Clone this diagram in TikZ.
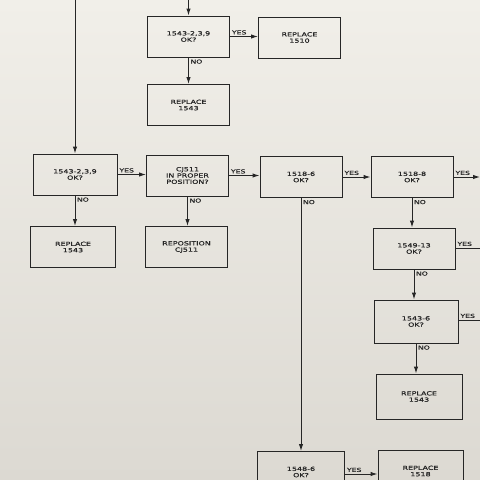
\documentclass[tikz,border=0pt]{standalone}
\usepackage{fontspec}
\newfontfamily\plotfont[FakeStretch=1.4,FakeBold=0.6]{DejaVu Sans}
\usetikzlibrary{arrows.meta}
\definecolor{paperlt}{HTML}{F1EFE9}
\definecolor{paperdk}{HTML}{DCD9D2}
\definecolor{ink}{HTML}{262626}

\begin{document}
\begin{tikzpicture}[x=1pt,y=-1pt,
    box/.style={draw=ink,line width=1pt,minimum width=82pt,minimum height=41pt,inner sep=1pt,
      align=center,text=ink,font=\plotfont\fontsize{5.7}{6.3}\selectfont},
    flow/.style={draw=ink,line width=1pt,-{Latex[length=7pt,width=4.5pt]}},
    wire/.style={draw=ink,line width=1pt},
    ans/.style={text=ink,inner sep=1.5pt,font=\plotfont\fontsize{5.5}{6}\selectfont}]
  % paper
  \shade[top color=paperlt,bottom color=paperdk] (0,0) rectangle (480,480);
  \useasboundingbox (0,0) rectangle (480,480);

  % upper branch
  \node[box] (chkA) at (188.5,36.5) {1543-2,3,9\\OK?};
  \node[box] (repB) at (299.5,37.5) {REPLACE\\1510};
  \node[box] (repC) at (188.5,105) {REPLACE\\1543};

  % main row
  \node[box,minimum width=84pt] (chkD) at (75,174.5) {1543-2,3,9\\OK?};
  \node[box] (posE) at (187.5,175.5) {CJ511\\IN PROPER\\POSITION?};
  \node[box] (chkF) at (301,177) {1518-6\\OK?};
  \node[box] (chkG) at (412,177) {1518-8\\OK?};
  \node[box,minimum width=85pt] (repH) at (73,247) {REPLACE\\1543};
  \node[box] (repI) at (186.5,247) {REPOSITION\\CJ511};

  % right column
  \node[box] (chkJ) at (414,248.5) {1549-13\\OK?};
  \node[box,minimum width=84pt,minimum height=43pt] (chkK) at (416,321.5) {1543-6\\OK?};
  \node[box,minimum width=86pt,minimum height=45pt] (repL) at (419,396.5) {REPLACE\\1543};
  \node[box,minimum width=87pt] (chkM) at (301,472) {1548-6\\OK?};
  \node[box,minimum width=85pt] (repN) at (420.5,471) {REPLACE\\1518};

  % free ends
  \coordinate (inA) at (188.5,0);
  \coordinate (inD) at (75,0);
  \coordinate (outG) at (480,177);
  \coordinate (outJ) at (480,248);
  \coordinate (outK) at (480,320);

  \draw[flow] (inA) -- (chkA.north);
  \draw[flow] (inD) -- (chkD.north);
  \draw[flow] (chkA.east) -- node[ans,pos=0,above right] {YES} (chkA.east -| repB.west);
  \draw[flow] (chkA.south) -- node[ans,pos=0,below right] {NO} (repC.north);
  \draw[flow] (chkD.east) -- node[ans,pos=0,above right] {YES} (chkD.east -| posE.west);
  \draw[flow] (posE.east) -- node[ans,pos=0,above right] {YES} (posE.east -| chkF.west);
  \draw[flow] (chkF.east) -- node[ans,pos=0,above right] {YES} (chkG.west);
  \draw[flow] (chkG.east) -- node[ans,pos=0,above right] {YES} (outG);
  \draw[flow] (chkD.south) -- node[ans,pos=0,below right] {NO} (chkD.south |- repH.north);
  \draw[flow] (posE.south) -- node[ans,pos=0,below right] {NO} (posE.south |- repI.north);
  \draw[flow] (chkF.south) -- node[ans,pos=0,below right] {NO} (chkM.north);
  \draw[flow] (chkG.south) -- node[ans,pos=0,below right] {NO} (chkG.south |- chkJ.north);
  \draw[flow] (chkJ.south) -- node[ans,pos=0,below right] {NO} (chkJ.south |- chkK.north);
  \draw[flow] (chkK.south) -- node[ans,pos=0,below right] {NO} (chkK.south |- repL.north);
  \draw[wire] (chkJ.east |- outJ) -- node[ans,pos=0,above right] {YES} (outJ);
  \draw[wire] (chkK.east |- outK) -- node[ans,pos=0,above right] {YES} (outK);
  \draw[flow] (chkM.east |- 0,474) -- node[ans,pos=0,above right] {YES} (repN.west |- 0,474);
\end{tikzpicture}
\end{document}
